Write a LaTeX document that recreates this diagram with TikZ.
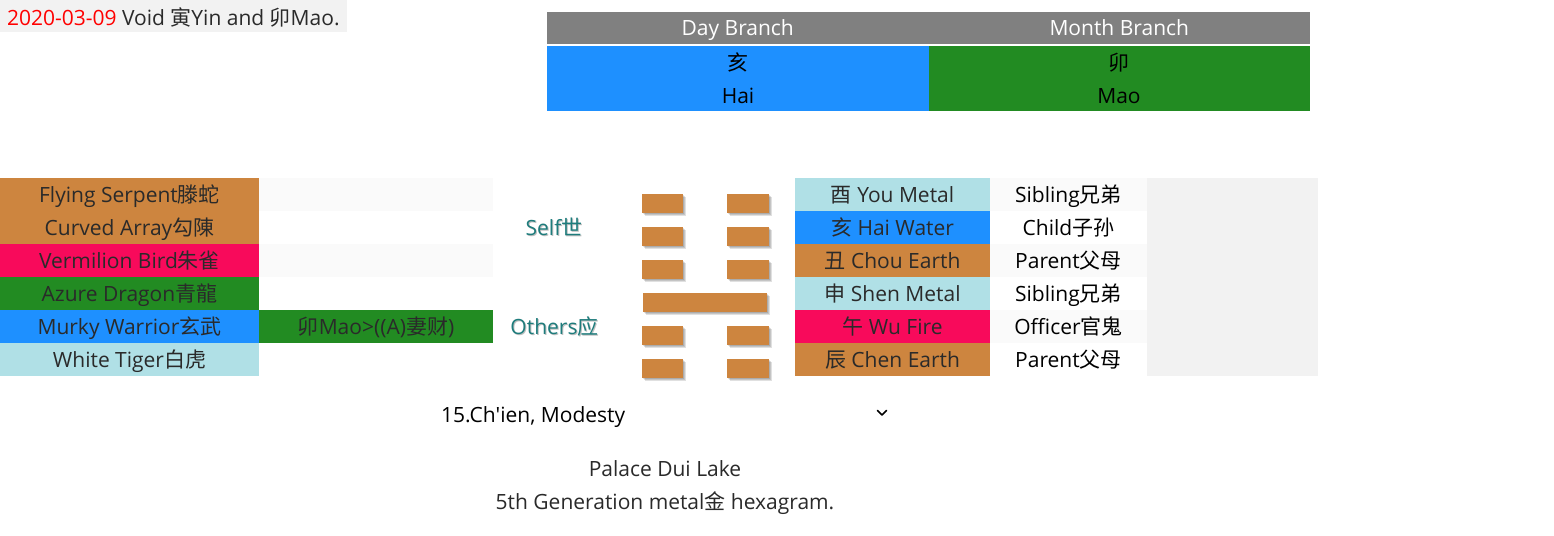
\documentclass[tikz,border=0pt]{standalone}
\usepackage{fontspec}
\setmainfont{Open Sans}
\newfontfamily\cjk{Noto Sans CJK SC}
\newcommand\zh[1]{{\cjk #1}}
\definecolor{peru}{HTML}{CD853F}
\definecolor{dodger}{HTML}{1E90FF}
\definecolor{forest}{HTML}{228B22}
\definecolor{powder}{HTML}{B0E0E6}
\definecolor{rosered}{HTML}{F80A5B}
\definecolor{txt}{HTML}{2A2A2A}
\definecolor{tealtxt}{HTML}{1E7C7C}
\definecolor{lightrow}{HTML}{FAFAFA}
\definecolor{lightbox}{HTML}{F2F2F2}
\definecolor{headgray}{HTML}{808080}
\tikzset{
  every node/.style={font=\fontsize{21}{25}\selectfont, text=txt, inner sep=0pt, outer sep=0pt, text height=15pt, text depth=0pt},
  cell/.style={anchor=north west, minimum height=33pt},
  lcell/.style={cell, minimum width=259pt},
  mcell/.style={cell, minimum width=234pt},
  rcell/.style={cell, minimum width=195pt},
  scell/.style={cell, minimum width=157pt},
  headcell/.style={anchor=north west, minimum width=381.5pt, minimum height=32pt, fill=headgray, text=white},
  bodycell/.style={anchor=north west, minimum width=381.5pt, minimum height=65pt},
  yao/.style={fill=peru},
  yaoshadow/.style={fill=black, opacity=0.12},
  marker/.style={text=tealtxt},
}
\newcommand\yinline[1]{%
  \foreach \o in {1,2,3}{\fill[yaoshadow] (642+\o,#1+\o) rectangle ++(41,19); \fill[yaoshadow] (727+\o,#1+\o) rectangle ++(42,19);}
  \fill[yao] (642,#1) rectangle ++(41,19);
  \fill[yao] (727,#1) rectangle ++(42,19);}
\newcommand\yangline[1]{%
  \foreach \o in {1,2,3}{\fill[yaoshadow] (643+\o,#1+\o) rectangle ++(124,19);}
  \fill[yao] (643,#1) rectangle ++(124,19);}
\begin{document}
\begin{tikzpicture}[x=1pt,y=-1pt]
\useasboundingbox[fill=white] (0,0) rectangle (1554,535);
% void line
\node[anchor=north west, fill=lightbox, minimum width=347pt, minimum height=32pt] (voidbox) at (0,0) {};
\node[anchor=west] (voidtxt) at (7,18) {\textcolor{red}{2020-03-09} Void \zh{寅}Yin and \zh{卯}Mao.};
% top table
\node[headcell] (dayh) at (547,12) {Day Branch};
\node[headcell] (monh) at (928.5,12) {Month Branch};
\node[bodycell, fill=dodger] (dayb) at (547,46) {};
\node[bodycell, fill=forest] (monb) at (928.5,46) {};
\node[text=black] (dayzh) at (738,63) {\zh{亥}};
\node[text=black] (dayen) at (738,96) {Hai};
\node[text=black] (monzh) at (1119,63) {\zh{卯}};
\node[text=black] (monen) at (1119,96) {Mao};
% left table
\node[lcell, fill=peru] (g1) at (0,178) {Flying Serpent\zh{滕蛇}};
\node[lcell, fill=peru] (g2) at (0,211) {Curved Array\zh{勾陳}};
\node[lcell, fill=rosered] (g3) at (0,244) {Vermilion Bird\zh{朱雀}};
\node[lcell, fill=forest] (g4) at (0,277) {Azure Dragon\zh{青龍}};
\node[lcell, fill=dodger] (g5) at (0,310) {Murky Warrior\zh{玄武}};
\node[lcell, fill=powder] (g6) at (0,343) {White Tiger\zh{白虎}};
\node[mcell, fill=lightrow] (h1) at (259,178) {};
\node[mcell, fill=lightrow] (h3) at (259,244) {};
\node[mcell, fill=forest] (h5) at (259,310) {\zh{卯}Mao>((A)\zh{妻财})};
% self / others
\node[text=black!25] at (555,229) {Self\zh{世}};
\node[marker] (self) at (554,228) {Self\zh{世}};
\node[text=black!25] at (555.5,328) {Others\zh{应}};
\node[marker] (others) at (554.5,327) {Others\zh{应}};
% hexagram
\yinline{194}
\yinline{227}
\yinline{260}
\yangline{293}
\yinline{326}
\yinline{359}
% right table
\node[rcell, fill=powder] (b1) at (795,178) {\zh{酉} You Metal};
\node[rcell, fill=dodger] (b2) at (795,211) {\zh{亥} Hai Water};
\node[rcell, fill=peru] (b3) at (795,244) {\zh{丑} Chou Earth};
\node[rcell, fill=powder] (b4) at (795,277) {\zh{申} Shen Metal};
\node[rcell, fill=rosered] (b5) at (795,310) {\zh{午} Wu Fire};
\node[rcell, fill=peru] (b6) at (795,343) {\zh{辰} Chen Earth};
\node[scell, fill=lightrow, text=black] (r1) at (990,178) {Sibling\zh{兄弟}};
\node[scell, fill=white, text=black] (r2) at (990,211) {Child\zh{子孙}};
\node[scell, fill=lightrow, text=black] (r3) at (990,244) {Parent\zh{父母}};
\node[scell, fill=white, text=black] (r4) at (990,277) {Sibling\zh{兄弟}};
\node[scell, fill=lightrow, text=black] (r5) at (990,310) {Officer\zh{官鬼}};
\node[scell, fill=white, text=black] (r6) at (990,343) {Parent\zh{父母}};
\node[anchor=north west, fill=lightbox, minimum width=171pt, minimum height=198pt] (grey) at (1147,178) {};
% selector
\node[anchor=west, text=black] (sel) at (441,415) {15.Ch\textquotesingle ien, Modesty};
\coordinate (chev) at (882,413);
\draw[black, line width=1.6pt, line cap=round, line join=round] ([shift={(-4.5,-2.5)}]chev) -- ([shift={(0,2)}]chev) -- ([shift={(4.5,-2.5)}]chev);
% palace
\node (palace) at (665,469) {Palace Dui Lake};
\node (gen) at (665,502) {5th Generation metal\zh{金} hexagram.};
\end{tikzpicture}
\end{document}
